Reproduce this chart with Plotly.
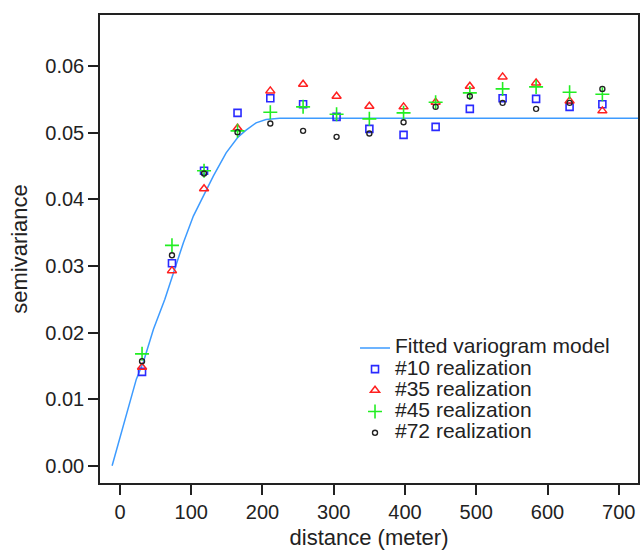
import plotly.graph_objects as go

# ---- data ----
lag_distance = [31, 73, 118, 165, 211, 257, 304, 350, 398, 443, 491, 537, 584, 631, 677]

real_10 = [0.0141, 0.0304, 0.0443, 0.0530, 0.0552, 0.0543, 0.0524, 0.0506, 0.0497, 0.0509,
           0.0536, 0.0552, 0.0551, 0.0539, 0.0543]
real_35 = [0.0148, 0.0293, 0.0416, 0.0507, 0.0563, 0.0573, 0.0555, 0.0540, 0.0539, 0.0546,
           0.0570, 0.0584, 0.0575, 0.0548, 0.0533]
real_45 = [0.0168, 0.0331, 0.0443, 0.0503, 0.0531, 0.0539, 0.0528, 0.0521, 0.0530, 0.0546,
           0.0560, 0.0566, 0.0569, 0.0561, 0.0558]
real_72 = [0.0157, 0.0316, 0.0439, 0.0501, 0.0514, 0.0503, 0.0494, 0.0499, 0.0516, 0.0539,
           0.0555, 0.0545, 0.0536, 0.0545, 0.0566]

model_distance = [-11, -7, 5, 16, 23, 33, 40, 47, 63, 75, 89, 103, 117, 131, 149, 166,
                  177, 191, 205, 224, 730]
model_value = [0.0000, 0.0015, 0.0060, 0.0105, 0.0130, 0.0156, 0.0180, 0.0205, 0.0250,
               0.0290, 0.0335, 0.0375, 0.0405, 0.0435, 0.0470, 0.0494, 0.0504, 0.0515,
               0.0520, 0.0522, 0.0522]

x_ticks = [0, 100, 200, 300, 400, 500, 600, 700]
y_ticks = [0.00, 0.01, 0.02, 0.03, 0.04, 0.05, 0.06]

FONT = "Liberation Sans, Arial, sans-serif"


def lbl(t):
    return '<span style="font-size:21px">' + t + '</span>'


fig = go.Figure()
fig.add_trace(go.Scatter(
    x=model_distance, y=model_value, mode="lines", name=lbl("Fitted variogram model"),
    line=dict(color="#3d9bff", width=1.5)))
fig.add_trace(go.Scatter(
    x=lag_distance, y=real_10, mode="markers", name=lbl("#10 realization"),
    marker=dict(symbol="square-open", size=7, color="#2a2aff", line=dict(width=1.6))))
fig.add_trace(go.Scatter(
    x=lag_distance, y=real_35, mode="markers", name=lbl("#35 realization"),
    marker=dict(symbol="triangle-up-open", size=8, color="#ff2020", line=dict(width=1.5))))
fig.add_trace(go.Scatter(
    x=lag_distance, y=real_45, mode="markers", name=lbl("#45 realization"),
    marker=dict(symbol="cross-thin-open", size=10, color="#22ee22", line=dict(width=1.6))))
fig.add_trace(go.Scatter(
    x=lag_distance, y=real_72, mode="markers", name=lbl("#72 realization"),
    marker=dict(symbol="circle-open", size=5, color="#222222", line=dict(width=1.4))))

axis_common = dict(
    showline=True, linecolor="#222222", linewidth=1.5, mirror=True,
    ticks="outside", ticklen=10, tickwidth=1.5, tickcolor="#222222",
    showgrid=False, zeroline=False,
    tickfont=dict(family=FONT, size=20, color="#222222"),
)

fig.update_layout(
    width=641, height=550,
    margin=dict(l=100, r=1, t=15, b=67),
    paper_bgcolor="white", plot_bgcolor="white",
    font=dict(family=FONT, color="#222222"),
    showlegend=True,
    legend=dict(x=0.474, y=0.322, xanchor="left", yanchor="top",
                bgcolor="rgba(0,0,0,0)", font=dict(family=FONT, size=14, color="#222222")),
    xaxis=dict(range=[-28, 727], tickvals=x_ticks, ticktext=[str(v) for v in x_ticks],
               title=dict(text="distance (meter)", font=dict(family=FONT, size=22), standoff=8),
               **axis_common),
    yaxis=dict(range=[-0.0026, 0.0677], tickvals=y_ticks,
               ticktext=["%.2f" % v for v in y_ticks],
               title=dict(text="semivariance", font=dict(family=FONT, size=22), standoff=12),
               **axis_common),
)

fig.write_html("out.html")
